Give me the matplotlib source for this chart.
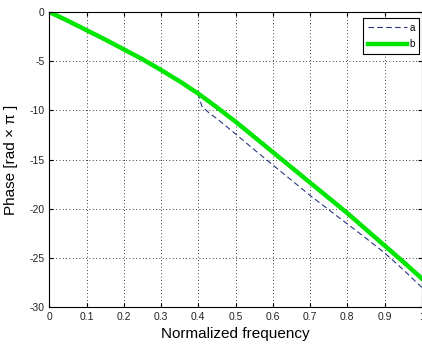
import matplotlib
matplotlib.use("Agg")
import matplotlib.pyplot as plt

plt.rcParams["font.family"] = ["Liberation Sans", "DejaVu Sans"]
plt.rcParams["axes.unicode_minus"] = False

# phase response read at normalized frequencies (step 0.05)
freq_b = [0.0, 0.05, 0.1, 0.15, 0.2, 0.25, 0.3, 0.35, 0.4, 0.45, 0.5,
          0.55, 0.6, 0.65, 0.7, 0.75, 0.8, 0.85, 0.9, 0.95, 1.0]
phase_b = [0.0, -0.9, -1.85, -2.8, -3.8, -4.8, -5.9, -7.05, -8.3, -9.7,
           -11.15, -12.7, -14.25, -15.8, -17.35, -18.9, -20.45, -22.1,
           -23.75, -25.4, -27.1]

freq_a = [0.0, 0.05, 0.1, 0.15, 0.2, 0.25, 0.3, 0.35, 0.4, 0.41, 0.43,
          0.45, 0.5, 0.55, 0.6, 0.65, 0.7, 0.75, 0.8, 0.85, 0.9, 0.95, 1.0]
phase_a = [0.0, -0.9, -1.85, -2.8, -3.8, -4.8, -5.9, -7.05, -8.5, -9.6,
           -10.3, -10.85, -12.4, -14.0, -15.55, -17.1, -18.65, -20.1,
           -21.55, -23.0, -24.5, -26.2, -28.0]

xticks = [0, 0.1, 0.2, 0.3, 0.4, 0.5, 0.6, 0.7, 0.8, 0.9, 1]
xtick_labels = ["0", "0.1", "0.2", "0.3", "0.4", "0.5", "0.6", "0.7", "0.8",
                "0.9", "1"]
yticks = [-30, -25, -20, -15, -10, -5, 0]

fig = plt.figure(figsize=(4.22, 3.45), dpi=100)
ax = fig.add_axes([49.3 / 422, 1 - 307 / 345, 372.5 / 422, 295 / 345])

ax.plot(freq_a, phase_a, "--", color="#2a3580", lw=0.8, dashes=(5, 3),
        label="a")
ax.plot(freq_b, phase_b, "-", color="#00e600", lw=3.2, label="b")

ax.set_xlim(0, 1)
ax.set_ylim(-30, 0)
ax.set_xticks(xticks)
ax.set_xticklabels(xtick_labels)
ax.set_yticks(yticks)
ax.grid(True, linestyle=(0, (1, 3)), color="black", lw=0.6)
ax.tick_params(direction="in", top=True, right=True, labelsize=7.5,
               labelcolor="#222222", length=3)
for s in ax.spines.values():
    s.set_linewidth(0.8)

ax.set_xlabel("Normalized frequency", fontsize=11, labelpad=4)
ax.set_ylabel("Phase [rad \u00d7 \u03c0 ]", fontsize=11, labelpad=8)

leg = ax.legend(loc="upper right", fontsize=7, fancybox=False,
                edgecolor="black", framealpha=1, handlelength=4.0,
                borderpad=0.45, labelspacing=0.7, handletextpad=0.3,
                borderaxespad=0, bbox_to_anchor=(0.993, 0.979))
leg.get_frame().set_linewidth(0.8)

fig.savefig("out.png", dpi=100)
